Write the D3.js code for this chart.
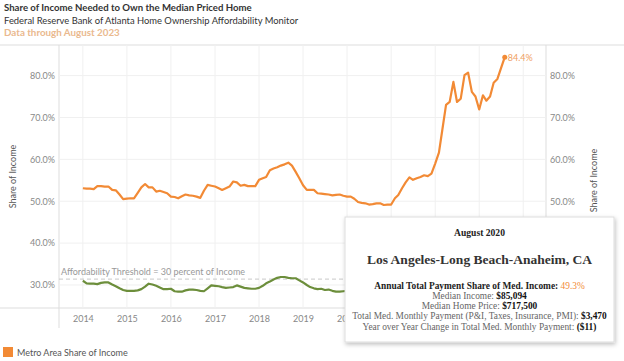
<!DOCTYPE html>
<html>
<head>
<meta charset="UTF-8">
<title>Share of Income Needed to Own the Median Priced Home</title>
<style>
  body { margin: 0; background: #fff; }
  svg { display: block; }
</style>
</head>
<body>
<script src="https://cdn.jsdelivr.net/npm/d3@7"></script>
<script>
// monthly series, first point = January 2014
var startMonth = new Date(2014, 0, 1);

// Los Angeles-Long Beach-Anaheim share of income (%)
var metroShare = [
  53.1, 53.0, 53.0, 52.9, 53.6, 53.6, 53.5, 53.5, 52.7, 52.6, 51.6, 50.5,
  50.6, 50.7, 50.7, 52.0, 53.3, 54.1, 53.3, 53.3, 52.3, 52.5, 52.2, 51.9,
  51.1, 51.0, 50.7, 51.2, 51.6, 51.4, 51.3, 51.1, 50.8, 52.5, 53.9, 53.7,
  53.5, 53.1, 52.7, 53.1, 53.5, 54.7, 54.5, 53.7, 53.9, 53.6, 53.6, 53.6,
  55.1, 55.5, 55.8, 57.4, 57.8, 58.1, 58.5, 58.8, 59.2, 58.5, 57.0, 55.5,
  53.8, 52.7, 52.7, 52.7, 51.9, 51.8, 51.7, 51.6, 51.4, 51.5, 51.6, 51.3,
  51.1, 51.1, 50.6, 49.8, 49.6, 49.5, 49.2, 49.3, 49.5, 49.5, 49.1, 49.2,
  49.2, 50.7, 51.5, 53.1, 54.5, 55.7, 55.1, 55.5, 55.8, 56.2, 56.0, 56.6,
  59.0, 61.6, 67.0, 73.0, 73.7, 78.5, 73.7, 74.5, 80.1, 80.7, 76.1, 75.0,
  71.9, 75.3, 74.0, 75.0, 78.3, 79.2, 81.8, 84.4
];

// second (green) series, only the part not hidden by the tooltip
var otherShare = [
  31.0, 30.4, 30.3, 30.3, 30.2, 30.5, 30.6, 30.6, 30.1, 29.7, 29.2, 28.8,
  28.6, 28.6, 28.6, 28.7, 29.0, 29.6, 30.3, 30.1, 29.8, 29.4, 29.0, 29.0,
  29.1, 28.5, 28.4, 28.4, 28.7, 28.9, 28.9, 28.8, 28.6, 28.5, 29.2, 29.9,
  29.8, 29.7, 29.5, 29.3, 29.4, 29.5, 29.9, 29.6, 29.3, 29.2, 29.1, 29.1,
  29.3, 29.8, 30.4, 30.8, 31.3, 31.7, 31.9, 31.9, 31.7, 31.6, 31.6, 31.1,
  30.6, 30.0, 29.5, 29.2, 29.0, 29.1, 28.8, 28.9, 28.6, 28.4, 28.4, 28.5,
  28.6, 28.6
];

var yTicks = [30, 40, 50, 60, 70, 80];
// right axis labels below 50% sit behind the tooltip
var yTicksRight = [50, 60, 70, 80];
var yearTicks = [2014, 2015, 2016, 2017, 2018, 2019, 2020, 2021, 2022, 2023, 2024];
// year labels from 2021 on sit behind the tooltip
var yearLabels = [2014, 2015, 2016, 2017, 2018, 2019, 2020];
var thresholdValue = 31.4;
var thresholdLabel = "Affordability Threshold = 30 percent of Income";

var titleText = "Share of Income Needed to Own the Median Priced Home";
var subtitleText = "Federal Reserve Bank of Atlanta Home Ownership Affordability Monitor";
var dataThroughText = "Data through August 2023";
var legendLabels = ["Metro Area Share of Income"];

// tooltip contents
var tipMonth = "August 2020";
var tipMetro = "Los Angeles-Long Beach-Anaheim, CA";
var tipRows = [
  ["Median Income: ", "$85,094"],
  ["Median Home Price: ", "$717,500"],
  ["Total Med. Monthly Payment (P&I, Taxes, Insurance, PMI): ", "$3,470"],
  ["Year over Year Change in Total Med. Monthly Payment: ", "($11)"]
];
var tipShare = "49.3%";

var width = 624, height = 361;
var orange = "#f28a35", green = "#6c8e3b";
var sans = "Lato, 'Open Sans', sans-serif";
var serif = "'Liberation Serif', 'DejaVu Serif', serif";

var plot = { left: 59, right: 546, top: 45, bottom: 308 };

var svg = d3.select("body").append("svg")
  .attr("width", width)
  .attr("height", height);

var defs = svg.append("defs");
var shadow = defs.append("filter").attr("id", "shadow")
  .attr("x", "-5%").attr("y", "-5%").attr("width", "115%").attr("height", "125%");
shadow.append("feDropShadow")
  .attr("dx", 1).attr("dy", 2).attr("stdDeviation", 2)
  .attr("flood-color", "#000").attr("flood-opacity", 0.25);

var x = d3.scaleTime()
  .domain([new Date(2013, 5, 17), new Date(2024, 6, 8)])
  .range([plot.left, plot.right]);

var y = d3.scaleLinear()
  .domain([24.5, 87.3])
  .range([plot.bottom, plot.top]);

var months = metroShare.map(function(d, i) { return d3.timeMonth.offset(startMonth, i); });

// titles
svg.append("text").attr("x", 4).attr("y", 11)
  .style("font-family", sans).style("font-weight", "bold").style("font-size", "9.6px")
  .style("fill", "#333").text(titleText);
svg.append("text").attr("x", 4).attr("y", 23.5)
  .style("font-family", sans).style("font-size", "9.4px")
  .style("fill", "#333").text(subtitleText);
svg.append("text").attr("x", 4).attr("y", 36)
  .style("font-family", sans).style("font-weight", "bold").style("font-size", "9.8px")
  .style("fill", "#eab98e").text(dataThroughText);

// frame lines
svg.append("line").attr("x1", 0).attr("x2", width).attr("y1", plot.top).attr("y2", plot.top)
  .style("stroke", "#ddd");
svg.append("line").attr("x1", 0).attr("x2", plot.right).attr("y1", plot.bottom).attr("y2", plot.bottom)
  .style("stroke", "#ddd");
svg.append("line").attr("x1", plot.left).attr("x2", plot.left).attr("y1", plot.top).attr("y2", 328)
  .style("stroke", "#ddd");
svg.append("line").attr("x1", plot.right).attr("x2", plot.right).attr("y1", plot.top).attr("y2", 328)
  .style("stroke", "#ddd");

// grid
var grid = svg.append("g");
grid.selectAll(".vgrid").data(yearTicks.filter(function(d) { return x(new Date(d, 0, 1)) < plot.right; }))
  .enter().append("line")
  .attr("x1", function(d) { return x(new Date(d, 0, 1)); })
  .attr("x2", function(d) { return x(new Date(d, 0, 1)); })
  .attr("y1", plot.top).attr("y2", plot.bottom)
  .style("stroke", "#f0f0f0");
grid.selectAll(".hgrid").data(yTicks).enter().append("line")
  .attr("x1", plot.left).attr("x2", plot.right)
  .attr("y1", function(d) { return y(d); }).attr("y2", function(d) { return y(d); })
  .style("stroke", "#f0f0f0");

// y axes, both sides
var fmt = function(d) { return d3.format(".1f")(d) + "%"; };
var yLeft = svg.append("g").attr("transform", "translate(" + (plot.left - 4) + ",0)")
  .call(d3.axisLeft(y).tickValues(yTicks).tickFormat(fmt).tickSize(0).tickPadding(0));
var yRight = svg.append("g").attr("transform", "translate(" + (plot.right + 4) + ",0)")
  .call(d3.axisRight(y).tickValues(yTicksRight).tickFormat(fmt).tickSize(0).tickPadding(0));
[yLeft, yRight].forEach(function(g) {
  g.select(".domain").remove();
  g.selectAll("text").style("font-family", sans).style("font-size", "9px").style("fill", "#888");
});

svg.append("text")
  .attr("transform", "translate(16," + ((plot.top + plot.bottom) / 2) + ") rotate(-90)")
  .attr("text-anchor", "middle")
  .style("font-family", sans).style("font-size", "9px").style("fill", "#555")
  .text("Share of Income");
svg.append("text")
  .attr("transform", "translate(597," + ((plot.top + plot.bottom) / 2 + 4) + ") rotate(-90)")
  .attr("text-anchor", "middle")
  .style("font-family", sans).style("font-size", "9px").style("fill", "#555")
  .text("Share of Income");

// x axis
var xAxis = svg.append("g").attr("transform", "translate(0," + plot.bottom + ")")
  .call(d3.axisBottom(x)
    .tickValues(yearLabels.map(function(d) { return new Date(d, 0, 1); }))
    .tickFormat(d3.timeFormat("%Y")).tickSize(0).tickPadding(8));
xAxis.select(".domain").remove();
xAxis.selectAll("text").style("font-family", sans).style("font-size", "9px").style("fill", "#888");

// affordability threshold
svg.append("line")
  .attr("x1", plot.left).attr("x2", plot.right)
  .attr("y1", y(thresholdValue)).attr("y2", y(thresholdValue))
  .style("stroke", "#c8c8c8").style("stroke-dasharray", "4,3");
svg.append("text").attr("x", plot.left + 2).attr("y", y(thresholdValue) - 4)
  .style("font-family", sans).style("font-size", "9px").style("fill", "#999")
  .text(thresholdLabel);

// lines
var line = d3.line()
  .x(function(d) { return x(d.date); })
  .y(function(d) { return y(d.value); });

var otherData = otherShare.map(function(v, i) { return { date: months[i], value: v }; });
var metroData = metroShare.map(function(v, i) { return { date: months[i], value: v }; });

svg.append("path").datum(otherData)
  .attr("d", line)
  .style("fill", "none").style("stroke", green).style("stroke-width", 2.2)
  .style("stroke-linejoin", "round");
svg.append("path").datum(metroData)
  .attr("d", line)
  .style("fill", "none").style("stroke", orange).style("stroke-width", 2.2)
  .style("stroke-linejoin", "round");

var last = metroData[metroData.length - 1];
svg.append("circle").attr("cx", x(last.date)).attr("cy", y(last.value)).attr("r", 2.5)
  .style("fill", orange);
svg.append("text").attr("x", x(last.date) + 3).attr("y", y(last.value) + 3.5)
  .style("font-family", sans).style("font-size", "9px").style("fill", "#f0a060")
  .text(fmt(last.value));

// legend
var legend = svg.append("g").attr("transform", "translate(3,347)");
legend.selectAll("rect").data(legendLabels).enter().append("rect")
  .attr("x", 0).attr("y", 0).attr("width", 10).attr("height", 10)
  .style("fill", orange);
legend.selectAll("text").data(legendLabels).enter().append("text")
  .attr("x", 14).attr("y", 8.5)
  .style("font-family", sans).style("font-size", "9px").style("fill", "#555")
  .text(function(d) { return d; });

// tooltip box
var tip = svg.append("g").attr("transform", "translate(345,217)");
var tipW = 269, tipH = 125, cx = tipW / 2;
tip.append("rect").attr("width", tipW).attr("height", tipH)
  .style("fill", "#fff").style("stroke", "#ddd").attr("filter", "url(#shadow)");

tip.append("text").attr("x", cx).attr("y", 19).attr("text-anchor", "middle")
  .style("font-family", serif).style("font-weight", "bold").style("font-size", "9.6px")
  .style("fill", "#222").text(tipMonth);
tip.append("text").attr("x", cx).attr("y", 46.5).attr("text-anchor", "middle")
  .style("font-family", serif).style("font-weight", "bold").style("font-size", "13.5px")
  .style("fill", "#333").text(tipMetro);

var shareLine = tip.append("text").attr("x", cx).attr("y", 71.5).attr("text-anchor", "middle")
  .style("font-family", serif).style("font-size", "9.4px");
shareLine.append("tspan").style("font-weight", "bold").style("fill", "#222")
  .text("Annual Total Payment Share of Med. Income: ");
shareLine.append("tspan").style("fill", orange).text(tipShare);

tip.selectAll(".row").data(tipRows).enter().append("text")
  .attr("x", cx).attr("y", function(d, i) { return 81.5 + i * 10.4; })
  .attr("text-anchor", "middle")
  .style("font-family", serif).style("font-size", "9.4px")
  .each(function(d) {
    var t = d3.select(this);
    t.append("tspan").style("fill", "#666").text(d[0]);
    t.append("tspan").style("fill", "#111").style("font-weight", "bold").text(d[1]);
  });
</script>
</body>
</html>
